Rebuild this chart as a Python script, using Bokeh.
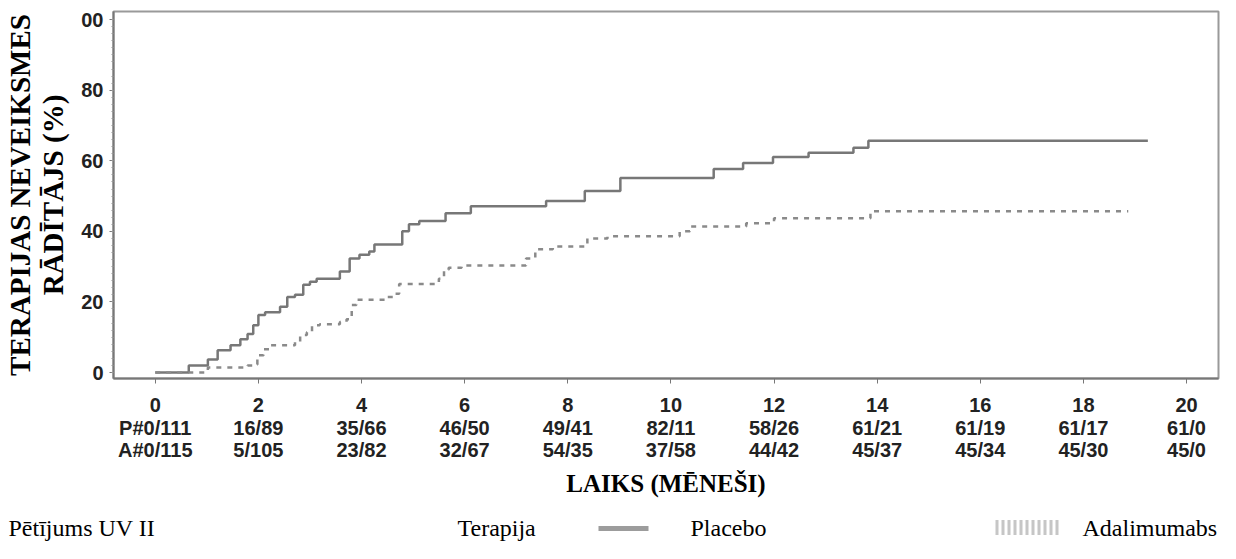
from bokeh.plotting import figure
from bokeh.models import LinearAxis, FixedTicker, Range1d, ColumnDataSource
from bokeh.layouts import column
from bokeh.core.properties import value
from bokeh.embed import file_html
from bokeh.resources import INLINE

# ---------------- data ----------------
placebo_t = [0, 0.65, 1.02, 1.21, 1.46, 1.65, 1.79, 1.90, 2.0, 2.13, 2.42, 2.56, 2.71, 2.87, 3.0, 3.13,
             3.58, 3.77, 3.96, 4.15, 4.25, 4.79, 4.92, 5.12, 5.63, 6.12, 7.58, 8.33, 9.02, 10.83, 11.4,
             11.98, 12.67, 13.54, 13.83, 19.25]
placebo_v = [0, 2, 3.7, 6.3, 7.7, 9.4, 10.9, 13.4, 16.3, 17.1, 18.6, 21.4, 22, 24.9, 25.7, 26.6,
             28.6, 32.3, 33.4, 34.3, 36.3, 40, 42, 42.9, 45.1, 47.1, 48.6, 51.4, 55.1, 57.7, 59.4,
             61.1, 62.3, 63.7, 65.7, 65.7]

adalimumab_t = [0, 1.02, 1.79, 1.9, 1.98, 2.1, 2.23, 2.71, 2.81, 2.94, 3.04, 3.19, 3.58, 3.71, 3.81,
                3.9, 4.48, 4.63, 4.73, 5.5, 5.6, 5.69, 5.94, 7.19, 7.37, 7.71, 8.38, 8.77, 10.17,
                10.37, 11.46, 12.0, 13.87, 18.87]
adalimumab_v = [0, 1.4, 2, 2.3, 4.9, 6.6, 7.7, 8.6, 10.6, 11.4, 13.4, 13.7, 14.3, 15.1, 19.1,
                20.6, 21.4, 22.3, 25.1, 26.6, 29.1, 29.7, 30.3, 32.3, 34.9, 35.7, 38, 38.6, 40,
                41.4, 42.3, 43.7, 45.7, 45.7]

months = [0, 2, 4, 6, 8, 10, 12, 14, 16, 18, 20]
placebo_row = ["P#0/111", "16/89", "35/66", "46/50", "49/41", "82/11", "58/26", "61/21", "61/19", "61/17", "61/0"]
adalimumab_row = ["A#0/115", "5/105", "23/82", "32/67", "54/35", "37/58", "44/42", "45/37", "45/34", "45/30", "45/0"]

y_ticks = [0, 20, 40, 60, 80, 100]
y_tick_labels = ["0", "20", "40", "60", "80", "00"]

legend_texts = ["Pētījums UV II", "Terapija", "Placebo", "Adalimumabs"]

# ---------------- main figure ----------------
TICK_FONT = "Liberation Sans"
SERIF = "Liberation Serif"
H = 502

p = figure(width=1220, height=H, x_range=Range1d(-0.81, 20.62), y_range=Range1d(-1.7, 102.3),
           output_backend="svg", toolbar_location=None,
           min_border_left=104, min_border_top=11, min_border_right=2, min_border_bottom=124)
p.frame_align = False
p.grid.visible = False
p.outline_line_color = "#9a9a9a"
p.outline_line_width = 2
p.background_fill_color = "white"
p.border_fill_color = "white"

p.step(placebo_t, placebo_v, mode="after", line_color="#777777", line_width=2.5)
p.step(adalimumab_t, adalimumab_v, mode="after", line_color="#8a8a8a", line_width=2.5, line_dash="5 6")

# y axis
ya = p.yaxis[0]
ya.ticker = FixedTicker(ticks=y_ticks, minor_ticks=list(range(0, 101, 2)))
ya.major_label_overrides = dict(zip(y_ticks, y_tick_labels))
ya.axis_line_color = "#777777"
ya.axis_line_width = 2
ya.major_tick_line_color = "#777777"
ya.major_tick_out = 4
ya.major_tick_in = 0
ya.minor_tick_line_color = "#999999"
ya.minor_tick_out = 2
ya.minor_tick_in = 0
ya.major_label_text_font = TICK_FONT
ya.major_label_text_font_style = "bold"
ya.major_label_text_font_size = "20px"
ya.major_label_text_color = "#222222"
ya.major_label_standoff = 6
ya.axis_label = "TERAPIJAS NEVEIKSMES\nRĀDĪTĀJS (%)"
ya.axis_label_text_font = SERIF
ya.axis_label_text_font_style = "bold"
ya.axis_label_text_font_size = "29px"
ya.axis_label_text_color = "black"
ya.axis_label_text_line_height = 1.05
ya.axis_label_standoff = 9

# x axes (tick row + two at-risk rows)
xa = p.xaxis[0]
xa.ticker = FixedTicker(ticks=months)
xa.axis_line_color = "#777777"
xa.axis_line_width = 2
xa.major_tick_line_color = "#777777"
xa.major_tick_out = 5
xa.major_tick_in = 0
xa.minor_tick_line_color = None
xa.major_label_text_font = TICK_FONT
xa.major_label_text_font_style = "bold"
xa.major_label_text_font_size = "20px"
xa.major_label_text_color = "#222222"
xa.major_label_standoff = 14

for row, standoff, last in ((placebo_row, 2, False), (adalimumab_row, -3, True)):
    ax = LinearAxis(ticker=FixedTicker(ticks=months), major_label_overrides=dict(zip(months, row)))
    ax.axis_line_color = None
    ax.major_tick_line_color = None
    ax.minor_tick_line_color = None
    ax.major_tick_out = 0
    ax.major_tick_in = 0
    ax.major_label_text_font = TICK_FONT
    ax.major_label_text_font_style = "bold"
    ax.major_label_text_font_size = "20px"
    ax.major_label_text_color = "#222222"
    ax.major_label_standoff = standoff
    if last:
        ax.axis_label = "LAIKS (MĒNEŠI)"
        ax.axis_label_text_font = SERIF
        ax.axis_label_text_font_style = "bold"
        ax.axis_label_text_font_size = "25px"
        ax.axis_label_text_color = "black"
        ax.axis_label_standoff = 6
    p.add_layout(ax, "below")

# ---------------- legend strip (page-pixel coordinates) ----------------
LH = 41
lg = figure(width=1220, height=LH, x_range=Range1d(8, 1228), y_range=Range1d(8 + H + LH, 8 + H),
            output_backend="svg", toolbar_location=None,
            min_border=0, min_border_left=0, min_border_right=0, min_border_top=0, min_border_bottom=0)
lg.frame_align = False
lg.axis.visible = False
lg.grid.visible = False
lg.outline_line_color = None
lg.background_fill_color = "white"
lg.border_fill_color = "white"

LEG_Y = 535
src = ColumnDataSource(dict(x=[16, 465, 698, 1090], y=[LEG_Y] * 4, t=legend_texts))
lg.text(x="x", y="y", text="t", source=src, text_font=value(SERIF), text_font_size="24px",
        text_baseline="middle", text_align="left", text_color="black")
lg.line([606, 656], [LEG_Y + 1, LEG_Y + 1], line_color="#9c9c9c", line_width=5)
lg.line([1003, 1069], [LEG_Y, LEG_Y], line_color="#c6c6c6", line_width=15, line_dash="3 3")

layout = column(p, lg, spacing=0)
open("out.html", "w").write(file_html(layout, INLINE))
